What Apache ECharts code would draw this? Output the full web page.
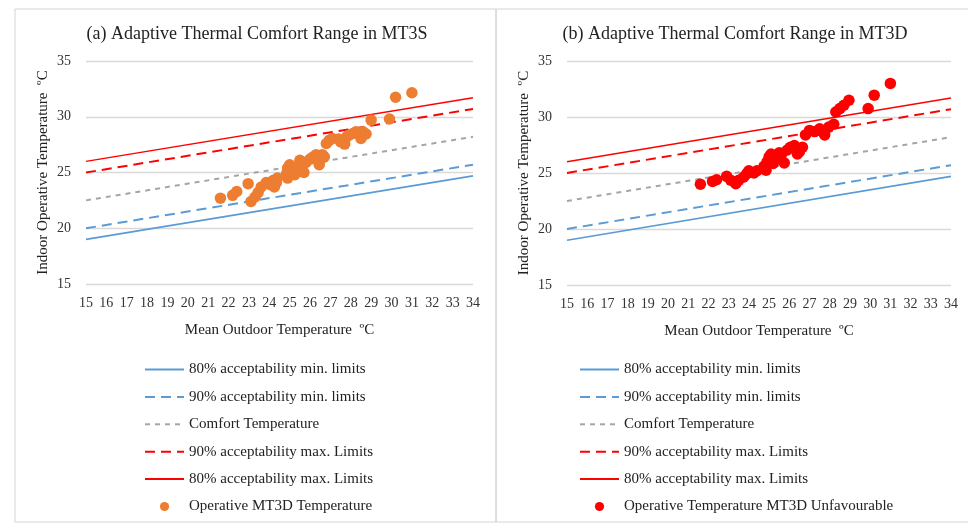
<!DOCTYPE html>
<html><head><meta charset="utf-8">
<script src="https://cdn.jsdelivr.net/npm/echarts@6/dist/echarts.min.js"></script>
<style>html,body{margin:0;padding:0;background:#fff}#c{width:968px;height:525px}</style>
</head><body><div id="c"></div>
<script>
// Comfort lines (x endpoints and y values)
const lineX = [15, 34];
const min80 = [19, 24.7];
const min90 = [20, 25.7];
const comfort = [22.5, 28.2];
const max90 = [25, 30.7];
const max80 = [26, 31.7];

// (a) MT3S operative temperature
const outA = [21.6,22.2,22.4,22.96,23.1,23.3,23.45,23.6,23.85,24.05,24.2,24.35,24.25,24.4,24.85,24.9,24.9,25.0,25.15,25.25,25.4,25.5,25.7,25.8,26.0,26.15,26.3,26.45,26.5,26.6,26.7,26.8,26.95,27.1,27.4,27.5,27.7,27.8,27.9,28.1,28.25,28.5,28.6,28.75,29.0,29.9,30.2,31.0];
const inA  = [22.7,22.95,23.3,24.0,22.4,22.8,23.2,23.7,24.1,23.9,24.3,24.1,23.7,24.5,24.9,24.5,25.4,25.7,25.2,24.8,25.5,26.1,25.0,25.9,26.2,26.4,26.6,25.7,26.1,26.6,26.4,27.6,27.9,28.05,28.0,27.75,27.55,28.2,28.35,28.5,28.65,28.05,28.65,28.45,29.7,29.8,31.75,32.15];

// (b) MT3D operative temperature
const outB = [21.6,22.2,22.4,22.9,23.1,23.35,23.5,23.75,23.9,24.0,24.25,24.4,24.75,24.85,24.9,25.0,25.1,25.2,25.3,25.5,25.6,25.75,25.9,26.05,26.25,26.4,26.5,26.65,26.8,27.0,27.25,27.5,27.65,27.75,27.95,28.2,28.3,28.5,28.7,28.95,29.9,30.2,31.0];
const inB  = [24.0,24.25,24.4,24.7,24.35,24.05,24.35,24.65,24.95,25.2,25.0,25.2,25.6,25.25,26.0,26.45,26.7,25.85,26.3,26.8,26.6,25.9,27.05,27.3,27.45,26.7,26.9,27.3,28.4,28.8,28.7,28.95,28.7,28.4,29.1,29.35,30.45,30.75,31.05,31.5,30.75,31.95,33.0];

const titles = ['(a) Adaptive Thermal Comfort Range in MT3S', '(b) Adaptive Thermal Comfort Range in MT3D'];
const scatterNames = ['Operative MT3D Temperature', 'Operative Temperature MT3D Unfavourable'];
const lineNames = ['80% acceptability min. limits','90% acceptability min. limits','Comfort Temperature','90% acceptability max. Limits','80% acceptability max. Limits'];
const yTitle = 'Indoor Operative Temperature  ºC';
const xTitle = 'Mean Outdoor Temperature  ºC';

const FONT = 'Liberation Serif';
const pair = (xs, ys) => xs.map((x, i) => [x, ys[i]]);
const lineDefs = [
  {y: min80, color: '#5b9bd5', type: 'solid', width: 1.6},
  {y: min90, color: '#5b9bd5', type: [10, 6], width: 2},
  {y: comfort, color: '#a5a5a5', type: [5, 5], width: 2},
  {y: max90, color: '#ff0000', type: [10, 6], width: 2},
  {y: max80, color: '#ff0000', type: 'solid', width: 1.4}
];
const scat = [{x: outA, y: inA, color: '#ed7d31'}, {x: outB, y: inB, color: '#ff0000'}];

const grids = [
  {left: 86, right: 495, top: 61, bottom: 241},
  {left: 567, right: 17, top: 61, bottom: 240}
];
const legendLeft = [139, 574];
const titleCenter = [252, 730];
// small dot inside a 14x14 box for the scatter legend icon
const dotIcon = 'path://M0,0M14,14M11.6,7A4.6,4.6,0,1,1,2.4,7A4.6,4.6,0,1,1,11.6,7Z';

const option = {
  animation: false,
  textStyle: {fontFamily: FONT},
  title: titles.map((t, i) => ({text: t, left: titleCenter[i], top: 20, textAlign: 'center',
    textStyle: {fontFamily: FONT, fontSize: 18, fontWeight: 'normal', color: '#222'}})),
  grid: grids,
  xAxis: [0, 1].map(i => ({type: 'value', gridIndex: i, min: 15, max: 34, interval: 1,
    name: xTitle, nameLocation: 'middle', nameGap: 39,
    nameTextStyle: {fontFamily: FONT, fontSize: 15, color: '#222'},
    axisLine: {show: false}, axisTick: {show: false}, splitLine: {show: false},
    axisLabel: {fontFamily: FONT, fontSize: 14, color: '#333', margin: 12}})),
  yAxis: [0, 1].map(i => ({type: 'value', gridIndex: i, min: 15, max: 35, interval: 5,
    name: yTitle, nameLocation: 'middle', nameGap: 35,
    nameTextStyle: {fontFamily: FONT, fontSize: 15, color: '#222'},
    axisLine: {show: false}, axisTick: {show: false},
    splitLine: {lineStyle: {color: '#d9d9d9', width: 1.3}},
    axisLabel: {fontFamily: FONT, fontSize: 14, color: '#333', margin: 15}})),
  legend: [0, 1].map(i => ({
    orient: 'vertical', left: legendLeft[i], top: 357, itemWidth: 39, itemHeight: 14, itemGap: 12.4,
    data: lineNames.map(n => ({name: n + (i ? ' ' : ''), itemStyle: {opacity: 0}}))
      .concat([{name: scatterNames[i], icon: dotIcon}]),
    textStyle: {fontFamily: FONT, fontSize: 15, color: '#222'},
    selectedMode: false
  })),
  graphic: [
    {type: 'rect', shape: {x: 15, y: 9, width: 481, height: 513}, style: {fill: 'none', stroke: '#d4d4d4', lineWidth: 1}, silent: true},
    {type: 'rect', shape: {x: 496, y: 9, width: 480, height: 513}, style: {fill: 'none', stroke: '#d4d4d4', lineWidth: 1}, silent: true}
  ],
  series: []
};

[0, 1].forEach(i => {
  lineDefs.forEach((d, k) => {
    option.series.push({type: 'line', name: lineNames[k] + (i ? ' ' : ''), xAxisIndex: i, yAxisIndex: i,
      data: pair(lineX, d.y), showSymbol: false, symbol: 'none', color: d.color,
      lineStyle: {color: d.color, type: d.type, width: d.width}, z: 2, silent: true});
  });
  option.series.push({type: 'scatter', name: scatterNames[i], xAxisIndex: i, yAxisIndex: i,
    data: pair(scat[i].x, scat[i].y), symbolSize: 11.5, color: scat[i].color,
    itemStyle: {color: scat[i].color, opacity: 1}, z: 5});
});

const chart = echarts.init(document.getElementById('c'), null, {renderer: 'canvas'});
chart.setOption(option);
</script></body></html>
